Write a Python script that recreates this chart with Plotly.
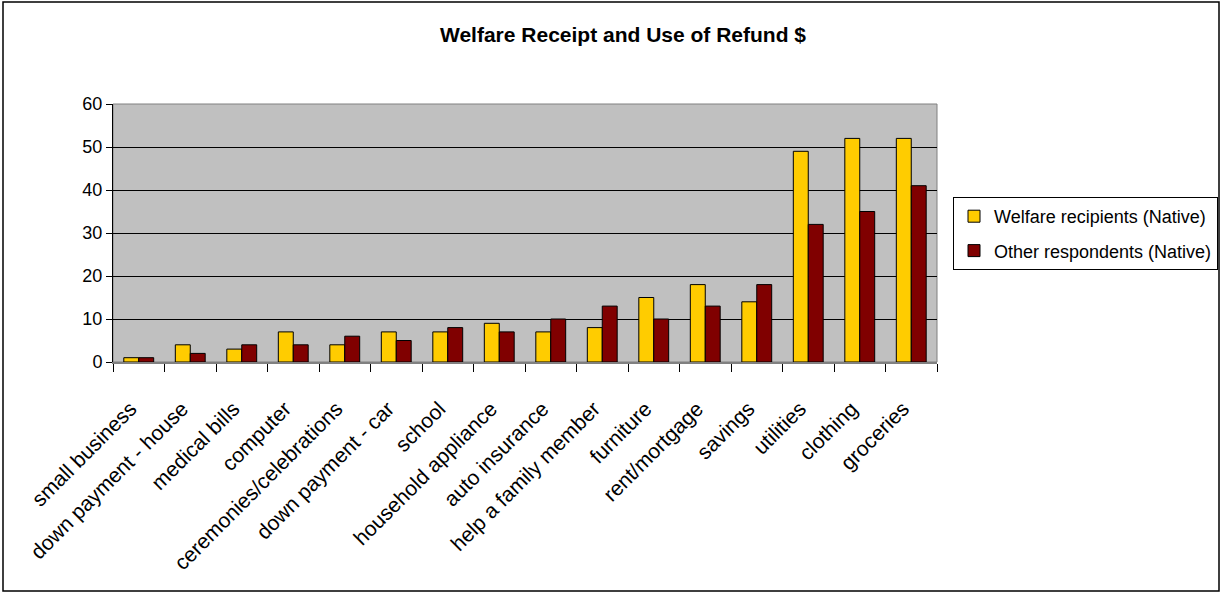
import plotly.graph_objects as go

categories = ["small business", "down payment - house", "medical bills", "computer",
              "ceremonies/celebrations", "down payment - car", "school",
              "household appliance", "auto insurance", "help a family member",
              "furniture", "rent/mortgage", "savings", "utilities", "clothing", "groceries"]
welfare = [1, 4, 3, 7, 4, 7, 7, 9, 7, 8, 15, 18, 14, 49, 52, 52]
other = [1, 2, 4, 4, 6, 5, 8, 7, 10, 13, 10, 13, 18, 32, 35, 41]
y_ticks = [0, 10, 20, 30, 40, 50, 60]

FONT = "Liberation Sans, Arial, sans-serif"
W, H = 1221, 594
L, R, T, B = 113, 284, 104, 232
pw, ph = W - L - R, H - T - B

fig = go.Figure()
fig.add_trace(go.Bar(x=categories, y=welfare, name="Welfare recipients (Native)",
                     marker=dict(color="#FFCC00", line=dict(color="black", width=1)),
                     legendgroup="a"))
fig.add_trace(go.Bar(x=categories, y=other, name="Other respondents (Native)",
                     marker=dict(color="#800000", line=dict(color="black", width=1)),
                     legendgroup="b"))

def px_x(x):
    return (x - L) / pw

def px_y(y):
    return (H - B - y) / ph

fig.update_layout(
    width=W, height=H,
    margin=dict(l=L, r=R, t=T, b=B, autoexpand=False),
    paper_bgcolor="white",
    plot_bgcolor="#C0C0C0",
    barmode="group",
    bargap=0.42,
    bargroupgap=0,
    font=dict(family=FONT, size=18, color="black"),
    title=dict(text="<b>Welfare Receipt and Use of Refund $</b>", x=623 / W, xref="container",
               xanchor="center", y=1 - 35 / H, yanchor="middle",
               font=dict(family=FONT, size=21, color="black")),
    showlegend=True,
    legend=dict(x=px_x(953), y=px_y(197), xanchor="left", yanchor="top",
                bgcolor="white", bordercolor="black", borderwidth=1,
                font=dict(family=FONT, size=18, color="black"),
                tracegroupgap=8, itemwidth=30),
    xaxis=dict(type="category", tickson="boundaries", ticks="outside", ticklen=8,
               tickcolor="black", tickangle=-45, showgrid=False,
               showline=True, linecolor="#808080", linewidth=2,
               tickvals=categories,
               ticktext=[c + "\u00a0\u00a0" for c in categories],
               ticklabelstandoff=16,
               tickfont=dict(family=FONT, size=21, color="black")),
    yaxis=dict(range=[0, 60], tickvals=y_ticks, ticks="outside", ticklen=6,
               tickcolor="black", showgrid=True, gridcolor="black", gridwidth=1,
               showline=True, linecolor="black", linewidth=1, zeroline=False,
               tickfont=dict(family=FONT, size=18, color="black")),
    shapes=[
        dict(type="rect", xref="paper", yref="paper", x0=0, x1=1, y0=0, y1=1,
             line=dict(color="#808080", width=1), layer="below"),
        dict(type="rect", xref="paper", yref="paper",
             x0=px_x(3), x1=px_x(1219), y0=px_y(591), y1=px_y(2),
             line=dict(color="black", width=1.5)),
    ],
)

fig.write_html("out.html")
